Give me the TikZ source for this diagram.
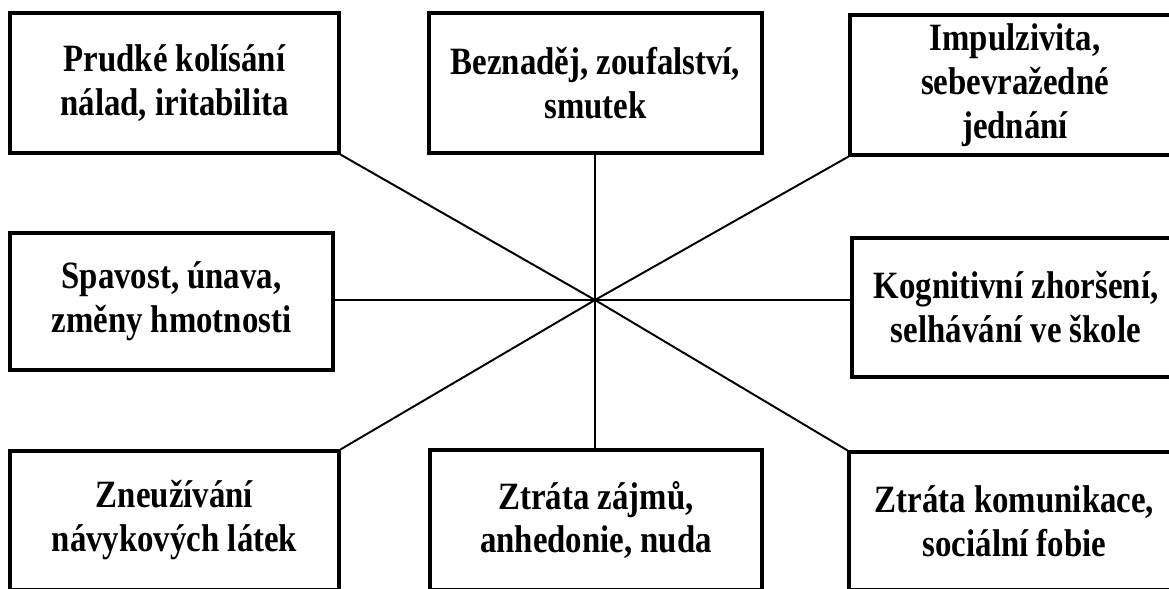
\documentclass[tikz,border=0pt]{standalone}
\usepackage{fontspec}
\setmainfont{Liberation Serif}[FakeStretch=0.85]
\begin{document}
\begin{tikzpicture}[x=0.02cm,y=-0.02cm,
  box/.style={draw=black, line width=1.9pt, rectangle, inner sep=0pt, align=center,
    font=\fontsize{22}{25}\selectfont\bfseries},
  conn/.style={draw=black, line width=1.1pt}]
\useasboundingbox (0,0) rectangle (1169,588);
\clip (0,0) rectangle (1169,588);
\coordinate (c) at (595,300);
\node[box, minimum width=329*0.02cm, minimum height=140*0.02cm] (tl) at (174.5,83) {Prudké kolísání\\nálad, iritabilita};
\node[box, minimum width=333*0.02cm, minimum height=140*0.02cm] (tc) at (595.5,83) {Beznaděj, zoufalství,\\smutek};
\node[box, minimum width=330*0.02cm, minimum height=140*0.02cm] (tr) at (1015,85) {Impulzivita,\\sebevražedné\\jednání};
\node[box, minimum width=323*0.02cm, minimum height=137*0.02cm] (ml) at (171.5,301.5) {Spavost, únava,\\změny hmotnosti};
\node[box, minimum width=328*0.02cm, minimum height=139*0.02cm] (mr) at (1016,307.5) {Kognitivní zhoršení,\\selhávání ve škole};
\node[box, minimum width=329*0.02cm, minimum height=139*0.02cm] (bl) at (174.5,520.5) {Zneužívání\\návykových látek};
\node[box, minimum width=332*0.02cm, minimum height=140*0.02cm] (bc) at (596,520) {Ztráta zájmů,\\anhedonie, nuda};
\node[box, minimum width=331*0.02cm, minimum height=138*0.02cm] (br) at (1014.5,521) {Ztráta komunikace,\\sociální fobie};
\draw[conn] (c |- tc.south) -- (c |- bc.north);
\draw[conn] (c -| ml.east) -- (c -| mr.west);
\draw[conn] (tl.south east) -- (c) -- (br.north west);
\draw[conn] (tr.south west) -- (c) -- (bl.north east);
\end{tikzpicture}
\end{document}
